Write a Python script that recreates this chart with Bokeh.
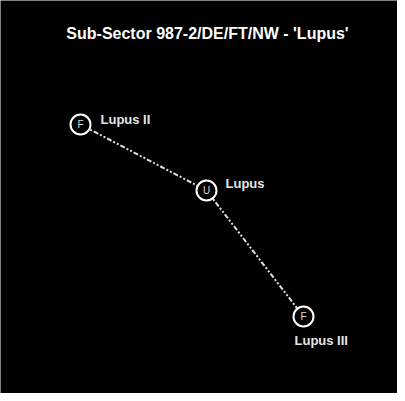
from bokeh.plotting import figure
from bokeh.models import ColumnDataSource
from bokeh.core.properties import value
from bokeh.embed import file_html
from bokeh.resources import INLINE

title = "Sub-Sector 987-2/DE/FT/NW - 'Lupus'"
names = ["Lupus II", "Lupus", "Lupus III"]
codes = ["F", "U", "F"]
xs = [80, 206, 303]
ys = [269, 203, 77]
links = [(0, 1), (1, 2)]

W, H = 397, 393
p = figure(width=W, height=H, x_range=(0, W), y_range=(0, H),
           output_backend="svg", toolbar_location=None,
           background_fill_color="black", border_fill_color="black",
           min_border=0, outline_line_color=None)
p.axis.visible = False
p.grid.visible = False

for a, b in links:
    p.line([xs[a], xs[b]], [ys[a], ys[b]], line_color="#e0e0e0",
           line_width=2, line_dash="5 2 2 2 2 2")

src = ColumnDataSource(dict(x=xs, y=ys, name=names, code=codes))
p.scatter("x", "y", source=src, size=20, fill_color="black",
          line_color="white", line_width=2)
p.text("x", "y", text="code", source=src, text_color="#dddddd",
       text_font=value("Liberation Sans"), text_font_size="10px",
       text_align="center", text_baseline="middle")

# labels
lab_dx = [20, 19, -9]
lab_dy = [5, 7, -24]
p.text([x + dx for x, dx in zip(xs, lab_dx)], [y + dy for y, dy in zip(ys, lab_dy)],
       text=names, text_color="#e6e6e6", text_font=value("Liberation Sans"),
       text_font_style="bold", text_font_size="13px",
       text_align="left", text_baseline="middle")

p.text([207], [360], text=[title], text_color="white",
       text_font=value("Liberation Sans"), text_font_style="bold",
       text_font_size="16px", text_align="center", text_baseline="middle")

open("out.html", "w").write(file_html(p, INLINE))
